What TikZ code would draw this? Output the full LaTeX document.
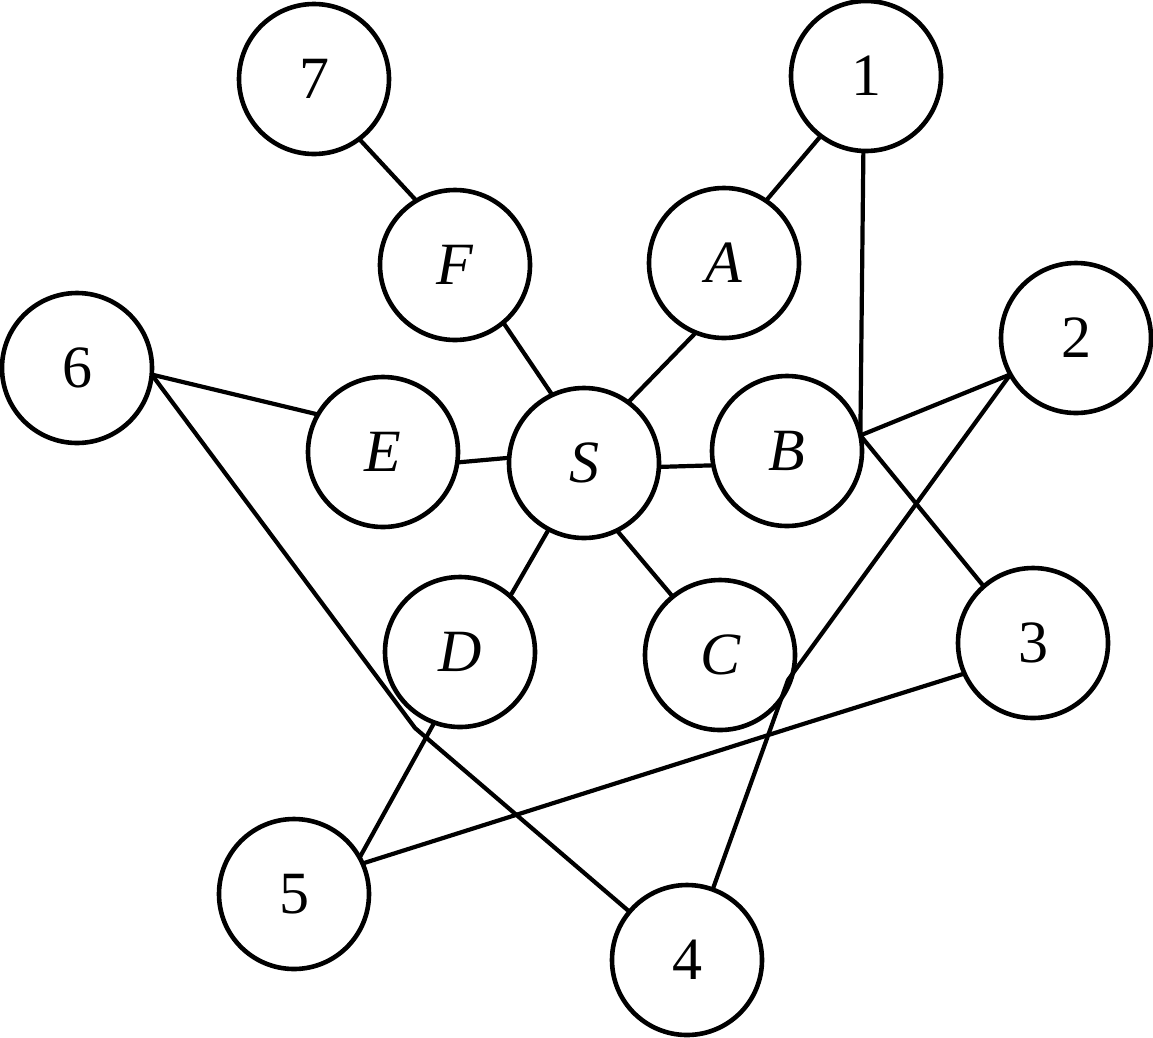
\documentclass[tikz,border=0pt]{standalone}
\usepackage{fontspec}
\setmainfont{Liberation Serif}
\begin{document}
\begin{tikzpicture}[x=1pt,y=-1pt,
  vtx/.style={circle,draw,line width=4.6pt,minimum size=150pt,inner sep=0pt,outer sep=0pt,font=\fontsize{60}{60}\selectfont},
  edge/.style={line width=4.2pt,line join=round}]
\useasboundingbox (0,0) rectangle (1153,1037);
\node[vtx] (n7) at (314,79) {7};
\node[vtx] (n1) at (866,76) {1};
\node[vtx] (F) at (455,265) {\itshape F};
\node[vtx] (A) at (724,263) {\itshape A};
\node[vtx] (n6) at (77,368) {6};
\node[vtx] (n2) at (1076,338) {2};
\node[vtx] (E) at (383,452) {\itshape E};
\node[vtx] (S) at (584,463) {\itshape S};
\node[vtx] (B) at (787,451) {\itshape B};
\node[vtx] (D) at (460,652) {\itshape D};
\node[vtx] (C) at (720,655) {\itshape C};
\node[vtx] (n3) at (1033,643) {3};
\node[vtx] (n5) at (294,894) {5};
\node[vtx] (n4) at (687,960) {4};
\coordinate (k24) at (788,680);
\coordinate (k64) at (415,728);
\coordinate (k35) at (800,725);
\draw[edge] (n7.-53) -- (F.121);
\draw[edge] (n1.-127) -- (A.56);
\draw[edge] (n1.-92) -- (B.12);
\draw[edge] (F.-50) -- (S.115);
\draw[edge] (A.-112) -- (S.54);
\draw[edge] (n6.-5) -- (E.150);
\draw[edge] (E.-8) -- (S.176);
\draw[edge] (S.-3) -- (B.191);
\draw[edge] (S.-118) -- (D.48);
\draw[edge] (S.-64) -- (C.129);
\draw[edge] (B.12) -- (n2.209);
\draw[edge] (B.12) -- (n3.131);
\draw[edge] (n2.209) -- (k24) -- (n4.70);
\draw[edge] (n6.-5) -- (k64) -- (n4.140);
\draw[edge] (n3.204) -- (k35) -- (n5.24);
\draw[edge] (D.-110) -- (n5.29);
\end{tikzpicture}
\end{document}
